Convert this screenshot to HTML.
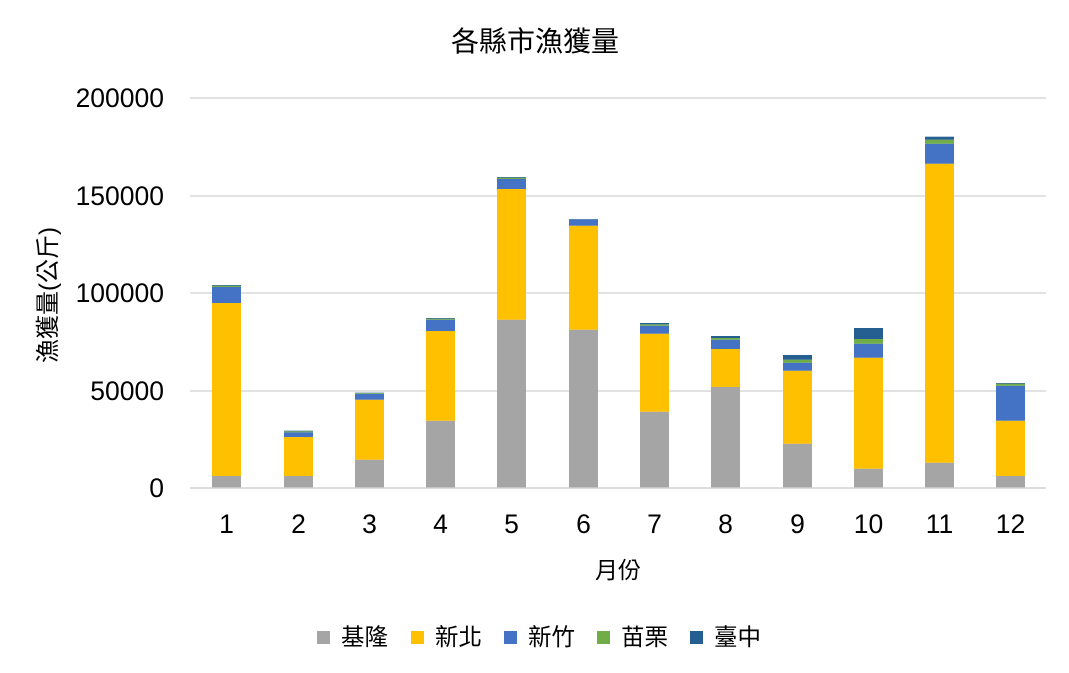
<!DOCTYPE html>
<html><head><meta charset="utf-8"><style>
html,body{margin:0;padding:0;background:#fff;width:1069px;height:673px;overflow:hidden}
text{font-family:"Liberation Sans","Noto Sans CJK TC",sans-serif;fill:#000}
</style></head><body>
<svg id="s" width="1069" height="673" xmlns="http://www.w3.org/2000/svg">
<text x="535" y="51" font-size="28" text-anchor="middle">各縣市漁獲量</text>
<g stroke="#d9d9d9" stroke-width="1.5">
<line x1="190" x2="1046" y1="98" y2="98"/><line x1="190" x2="1046" y1="196" y2="196"/>
<line x1="190" x2="1046" y1="293" y2="293"/><line x1="190" x2="1046" y1="391" y2="391"/>
</g>
<g font-size="26.5" text-anchor="end">
<text x="164" y="107">200000</text><text x="164" y="205">150000</text><text x="164" y="302">100000</text>
<text x="164" y="400">50000</text><text x="164" y="497">0</text>
</g>
<g id="bars"></g>
<line x1="190" x2="1046" y1="488" y2="488" stroke="#d0d0d0" stroke-width="1.5"/>
<g id="xl" font-size="26.5" text-anchor="middle"></g>
<text x="618" y="578" font-size="23" text-anchor="middle">月份</text>
<text transform="translate(56,295) rotate(-90)" font-size="24" text-anchor="middle">漁獲量(公斤)</text>
<g font-size="23.5">
<rect x="317" y="631" width="13" height="13" fill="#a5a5a5"/><text x="341" y="645">基隆</text>
<rect x="411" y="631" width="13" height="13" fill="#ffc000"/><text x="435" y="645">新北</text>
<rect x="504" y="631" width="13" height="13" fill="#4472c4"/><text x="528" y="645">新竹</text>
<rect x="597" y="631" width="13" height="13" fill="#70ad47"/><text x="621" y="645">苗栗</text>
<rect x="690" y="631" width="13" height="13" fill="#255e91"/><text x="714" y="645">臺中</text>
</g>
</svg>
<script>
var d=[[212,476,303,287,285.7,285],[284,476,437,432.3,431.3,430.7],[355,459.7,399.7,393.7,393,392.7],
[426,420.7,331,319.7,318.7,318],[497,319.7,189,179,177.7,177],[569,329.7,225.7,219.3,219.2,219],
[640,411.7,333.7,325.7,324.3,323],[711,387,349,339.7,338,336],[783,443.7,370.7,362.7,359.7,355],
[854,468.7,357.7,343.7,339,328],[925,462.7,163.7,143.7,139.7,136.7],[996,476,420.7,385.7,383.7,383]];
var c=["#a5a5a5","#ffc000","#4472c4","#70ad47","#255e91"];
var ns="http://www.w3.org/2000/svg",g=document.getElementById("bars"),xl=document.getElementById("xl");
d.forEach(function(b,i){var prev=488;for(var k=0;k<5;k++){var t=b[k+1];var r=document.createElementNS(ns,"rect");
r.setAttribute("x",b[0]);r.setAttribute("width",29);r.setAttribute("y",t);r.setAttribute("height",Math.max(0,prev-t));
r.setAttribute("fill",c[k]);g.appendChild(r);prev=t;}
var tx=document.createElementNS(ns,"text");tx.setAttribute("x",b[0]+14.5);tx.setAttribute("y",533);tx.textContent=i+1;xl.appendChild(tx);});
</script>
</body></html>
